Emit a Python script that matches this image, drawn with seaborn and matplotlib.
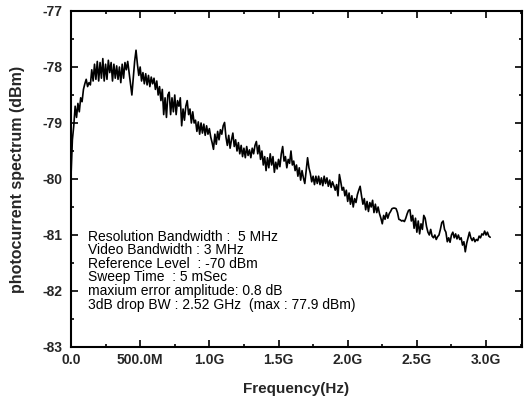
import numpy as np
import pandas as pd
import matplotlib
matplotlib.use("Agg")
import matplotlib.pyplot as plt
import seaborn as sns
from matplotlib.ticker import MultipleLocator

# Spectrum samples, 10 MHz apart, starting at 0 Hz (dBm)
power_dbm = [
    -79.95, -79.3, -79.05, -78.7, -78.9, -78.65, -78.8, -78.55, -78.62, -78.4,
    -78.3, -78.22, -78.35, -78.28, -78.32, -78.05, -78.25, -77.95, -78.22, -77.9,
    -78.25, -77.92, -78.2, -77.85, -78.25, -77.95, -78.22, -77.88, -78.1, -77.92,
    -78.25, -77.95, -78.2, -77.98, -78.22, -78.0, -78.28, -77.95, -78.2, -77.92,
    -78.05, -77.9, -78.1, -78.3, -78.5, -78.2, -77.9, -77.7, -77.95, -78.15,
    -78.0, -78.25, -78.1, -78.3, -78.12, -78.32, -78.15, -78.35, -78.18, -78.3,
    -78.2, -78.4, -78.25, -78.5, -78.35, -78.6, -78.4, -78.85, -78.55, -78.9,
    -78.5, -78.45, -78.85, -78.55, -78.8, -78.5, -78.85, -78.6, -78.7, -78.55,
    -79.05, -78.75, -78.95, -78.7, -78.6, -78.85, -78.75, -79.0, -78.8, -79.0,
    -78.95, -79.15, -78.98, -79.2, -79.0, -79.18, -79.02, -79.22, -79.05, -79.2,
    -79.1, -79.25, -79.35, -79.47, -79.2, -79.38, -79.15, -79.3, -79.12, -79.2,
    -79.05, -78.99, -79.25, -79.4, -79.22, -79.45, -79.3, -79.18, -79.42, -79.3,
    -79.5, -79.35, -79.55, -79.4, -79.6, -79.45, -79.62, -79.42, -79.58, -79.48,
    -79.62, -79.45, -79.55, -79.4, -79.33, -79.55, -79.4, -79.65, -79.5, -79.75,
    -79.6, -79.85, -79.62, -79.8, -79.55, -79.75, -79.6, -79.88, -79.7, -79.82,
    -79.65, -79.78, -79.55, -79.42, -79.68, -79.6, -79.8, -79.65, -79.72, -79.5,
    -79.75, -79.68, -79.85, -79.75, -79.95, -79.8, -80.02, -79.85, -79.98, -80.08,
    -79.85, -79.62, -79.8, -79.9, -80.05, -79.95, -80.1, -79.95, -80.08, -79.95,
    -80.1, -79.98, -80.12, -79.95, -80.08, -79.98, -80.13, -80.02, -80.15, -80.05,
    -80.12, -80.2, -80.1, -80.3, -79.92, -80.05, -80.2, -80.15, -80.3, -80.2,
    -80.4, -80.25, -80.45, -80.3, -80.5, -80.35, -80.42, -80.28, -80.2, -80.13,
    -80.3, -80.45, -80.35, -80.55, -80.4, -80.58, -80.42, -80.5, -80.38, -80.6,
    -80.45, -80.6, -80.5, -80.62, -80.7, -80.8, -80.65, -80.72, -80.6, -80.7,
    -80.62, -80.58, -80.53, -80.52, -80.52, -80.53, -80.6, -80.72, -80.73, -80.75,
    -80.74, -80.76, -80.7, -80.62, -80.56, -80.55, -80.75, -80.65, -80.88, -80.7,
    -80.95, -80.75, -80.98, -80.8, -80.9, -80.65, -80.7, -80.85, -80.95, -81.0,
    -80.9, -81.02, -81.05, -81.0, -81.08, -81.03, -81.0, -80.9, -80.78, -80.75,
    -80.9, -80.95, -81.12, -81.05, -81.13, -81.0, -80.95, -81.05, -80.98, -81.07,
    -81.0, -81.08, -81.05, -81.18, -81.12, -81.3, -81.15, -81.05, -80.95, -81.05,
    -81.1, -81.05, -81.12, -81.08, -81.1, -81.02, -81.05, -80.98, -81.0, -80.93,
    -81.0, -80.95, -81.02, -81.04,
]
freq_step_hz = 10e6
freq_hz = np.arange(len(power_dbm)) * freq_step_hz

x_ticks = [0.0, 0.5e9, 1.0e9, 1.5e9, 2.0e9, 2.5e9, 3.0e9]
x_tick_labels = ["0.0", "500.0M", "1.0G", "1.5G", "2.0G", "2.5G", "3.0G"]
y_ticks = [-83, -82, -81, -80, -79, -78, -77]

info_lines = [
    "Resolution Bandwidth :  5 MHz",
    "Video Bandwidth : 3 MHz",
    "Reference Level  : -70 dBm",
    "Sweep Time  : 5 mSec",
    "maxium error amplitude: 0.8 dB",
    "3dB drop BW : 2.52 GHz  (max : 77.9 dBm)",
]

df = pd.DataFrame({"freq": freq_hz, "power": power_dbm})

sns.set_style("ticks")
plt.rcParams["font.family"] = ["Liberation Sans", "DejaVu Sans"]

fig = plt.figure(figsize=(5.27, 4.01), dpi=100)
ax = fig.add_axes([71 / 527, 1 - 347 / 401, 451 / 527, 336 / 401])

sns.lineplot(data=df, x="freq", y="power", ax=ax, color="black", linewidth=1.2)

ax.set_xlim(0, 3.26e9)
ax.set_ylim(-83, -77)
ax.set_xticks(x_ticks)
ax.set_xticklabels(x_tick_labels)
ax.xaxis.set_minor_locator(MultipleLocator(0.25e9))
ax.set_yticks(y_ticks)
ax.set_yticklabels([str(v) for v in y_ticks])
ax.yaxis.set_minor_locator(MultipleLocator(0.5))

ax.tick_params(axis="both", which="both", direction="in", top=True, right=True,
               width=1.2, color="black")
ax.tick_params(axis="both", which="major", length=5, labelsize=10)
ax.tick_params(axis="both", which="minor", length=2.5)
for lab in ax.get_xticklabels() + ax.get_yticklabels():
    lab.set_fontweight("bold")
ax.tick_params(axis="x", which="major", pad=4)
ax.tick_params(axis="y", which="major", pad=6)

for sp in ax.spines.values():
    sp.set_visible(True)
    sp.set_linewidth(1.5)
    sp.set_color("black")

ax.set_xlabel("Frequency(Hz)", fontsize=11, fontweight="bold", labelpad=11)
ax.set_ylabel("photocurrent spectrum (dBm)", fontsize=11.5, fontweight="bold", labelpad=13)

line_y_px = [237, 250, 264, 277, 291, 305]
for txt, py in zip(info_lines, line_y_px):
    ax.text((88 - 71) / 451, (347 - py) / 336, txt, transform=ax.transAxes,
            fontsize=10, va="center", ha="left", color="black")

fig.savefig("out.png", dpi=100)
